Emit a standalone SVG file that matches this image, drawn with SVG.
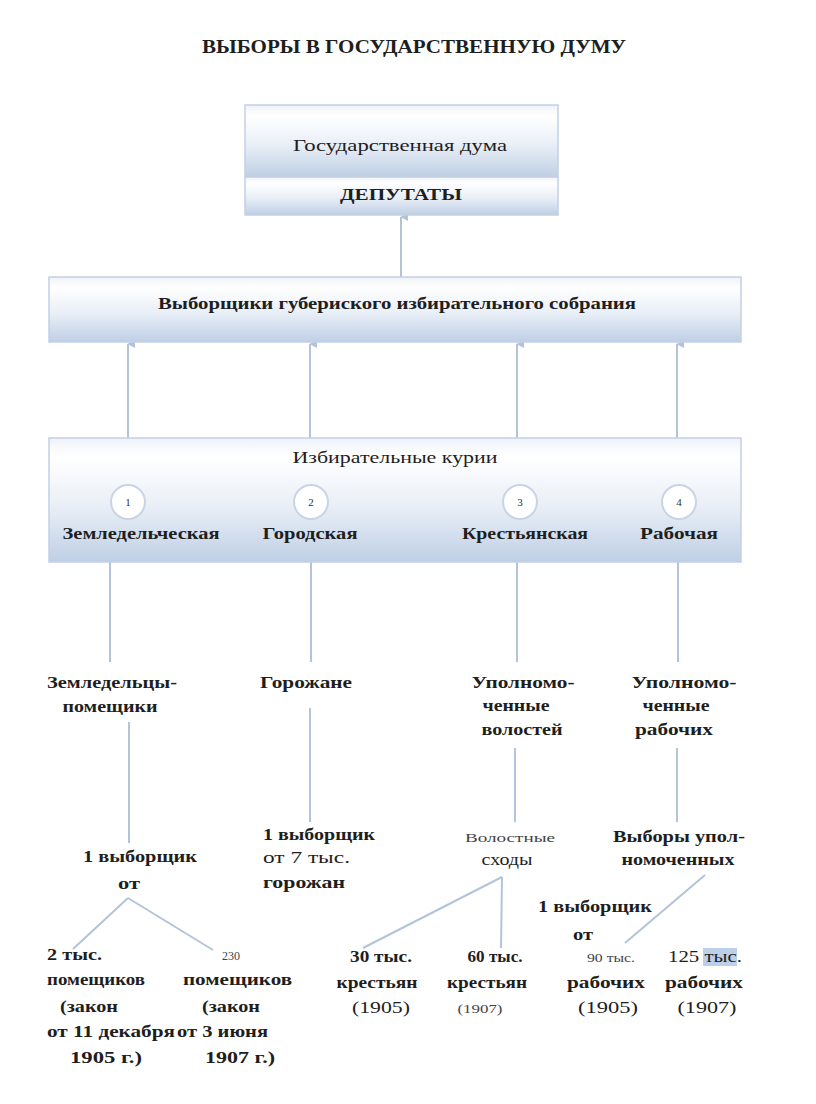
<svg xmlns="http://www.w3.org/2000/svg" width="816" height="1104" viewBox="0 0 816 1104">
<style>
text{font-family:"Liberation Serif","Times New Roman",serif;fill:#1e1e1e}
.t{font-size:17px;font-weight:bold;text-anchor:middle}
.n{font-size:17px;font-weight:normal;text-anchor:middle}
.s{font-size:17px;font-weight:bold;text-anchor:start}
.sm{font-size:12px;font-weight:normal;text-anchor:middle;fill:#444}
.box{stroke:#c3d0e2;stroke-width:1.5}
.ln{stroke:#b3c4da;stroke-width:2;fill:none}
.circ{fill:#ffffff;stroke:#c9d4e4;stroke-width:2}
.num{font-size:11px;text-anchor:middle;fill:#333}
</style>
<defs>
<linearGradient id="g" x1="0" y1="0" x2="0" y2="1">
<stop offset="0" stop-color="#eef2f8"/>
<stop offset="0.15" stop-color="#ffffff"/>
<stop offset="0.55" stop-color="#e9eff7"/>
<stop offset="1" stop-color="#bfcfe5"/>
</linearGradient>
<marker id="ar" viewBox="0 0 10 10" refX="5" refY="1" markerWidth="8" markerHeight="8" markerUnits="userSpaceOnUse" orient="auto-start-reverse">
<path d="M0,10 L5,0 L10,10 z" fill="#b3c4da"/>
</marker>
</defs>
<rect width="816" height="1104" fill="#ffffff"/>
<text x="414" y="53" font-size="19" font-weight="bold" text-anchor="middle" textLength="424" lengthAdjust="spacingAndGlyphs">ВЫБОРЫ В ГОСУДАРСТВЕННУЮ ДУМУ</text>

<g id="connectors">
<line class="ln" x1="401" y1="277" x2="401" y2="217" marker-end="url(#ar)"/>
<line class="ln" x1="128" y1="438" x2="128" y2="344" marker-end="url(#ar)"/>
<line class="ln" x1="310" y1="438" x2="310" y2="344" marker-end="url(#ar)"/>
<line class="ln" x1="517" y1="438" x2="517" y2="344" marker-end="url(#ar)"/>
<line class="ln" x1="677" y1="438" x2="677" y2="344" marker-end="url(#ar)"/>
<line class="ln" x1="110" y1="562" x2="110" y2="662"/>
<line class="ln" x1="311" y1="562" x2="311" y2="662"/>
<line class="ln" x1="517" y1="562" x2="517" y2="662"/>
<line class="ln" x1="678" y1="562" x2="678" y2="662"/>
<line class="ln" x1="129" y1="722" x2="129" y2="843"/>
<line class="ln" x1="310" y1="708" x2="310" y2="822"/>
<line class="ln" x1="515" y1="748" x2="515" y2="822"/>
<line class="ln" x1="677" y1="748" x2="677" y2="822"/>
<line class="ln" x1="128" y1="898" x2="73" y2="949"/>
<line class="ln" x1="128" y1="898" x2="213" y2="950"/>
<line class="ln" x1="502" y1="877" x2="363" y2="948"/>
<line class="ln" x1="502" y1="877" x2="501" y2="948"/>
<line class="ln" x1="705" y1="875" x2="625" y2="943"/>
</g>

<g id="duma">
<rect class="box" x="245" y="105" width="313" height="72" fill="url(#g)"/>
<rect class="box" x="245" y="177" width="313" height="38" fill="url(#g)"/>
<text class="n" x="400" y="151" textLength="214" lengthAdjust="spacingAndGlyphs">Государственная дума</text>
<text class="t" x="401" y="200" textLength="122" lengthAdjust="spacingAndGlyphs">ДЕПУТАТЫ</text>
</g>

<g id="electors">
<rect class="box" x="49" y="277" width="692" height="65" fill="url(#g)"/>
<text class="t" x="397" y="309" textLength="478" lengthAdjust="spacingAndGlyphs">Выборщики губериского избирательного собрания</text>
</g>

<g id="curiae">
<rect class="box" x="49" y="438" width="692" height="124" fill="url(#g)"/>
<text class="n" x="395" y="463" textLength="205" lengthAdjust="spacingAndGlyphs">Избирательные курии</text>
<circle class="circ" cx="128" cy="502" r="17"/>
<circle class="circ" cx="311" cy="502" r="17"/>
<circle class="circ" cx="520" cy="502" r="17"/>
<circle class="circ" cx="679" cy="502" r="17"/>
<text class="num" x="128" y="506">1</text>
<text class="num" x="311" y="506">2</text>
<text class="num" x="520" y="506">3</text>
<text class="num" x="679" y="506">4</text>
<text class="t" x="141" y="539" textLength="157" lengthAdjust="spacingAndGlyphs">Земледельческая</text>
<text class="t" x="310" y="539" textLength="95" lengthAdjust="spacingAndGlyphs">Городская</text>
<text class="t" x="525" y="539" textLength="126" lengthAdjust="spacingAndGlyphs">Крестьянская</text>
<text class="t" x="679" y="539" textLength="78" lengthAdjust="spacingAndGlyphs">Рабочая</text>
</g>

<g id="landowners">
<text class="t" x="112" y="688" textLength="130" lengthAdjust="spacingAndGlyphs">Земледельцы-</text>
<text class="t" x="110" y="712" textLength="95" lengthAdjust="spacingAndGlyphs">помещики</text>
</g>
<g id="townspeople">
<text class="t" x="306" y="688" textLength="92" lengthAdjust="spacingAndGlyphs">Горожане</text>
</g>
<g id="volost-reps">
<text class="t" x="523" y="688" textLength="103" lengthAdjust="spacingAndGlyphs">Уполномо-</text>
<text class="t" x="516" y="711" textLength="67" lengthAdjust="spacingAndGlyphs">ченные</text>
<text class="t" x="522" y="735" textLength="81" lengthAdjust="spacingAndGlyphs">волостей</text>
</g>
<g id="worker-reps">
<text class="t" x="684" y="688" textLength="105" lengthAdjust="spacingAndGlyphs">Уполномо-</text>
<text class="t" x="676" y="711" textLength="67" lengthAdjust="spacingAndGlyphs">ченные</text>
<text class="t" x="674" y="735" textLength="78" lengthAdjust="spacingAndGlyphs">рабочих</text>
</g>

<g id="land-elector">
<text class="t" x="140" y="862" textLength="114" lengthAdjust="spacingAndGlyphs">1 выборщик</text>
<text class="t" x="129" y="889" textLength="22" lengthAdjust="spacingAndGlyphs">от</text>
</g>
<g id="town-elector">
<text class="s" x="263" y="840" textLength="112" lengthAdjust="spacingAndGlyphs">1 выборщик</text>
<text class="n" x="263" y="863" text-anchor="start" style="text-anchor:start" textLength="87" lengthAdjust="spacingAndGlyphs">от 7 тыс.</text>
<text class="s" x="263" y="888" textLength="82" lengthAdjust="spacingAndGlyphs">горожан</text>
</g>
<g id="volost-assemblies">
<text class="sm" x="510" y="842" font-size="13" textLength="90" lengthAdjust="spacingAndGlyphs">Волостные</text>
<text class="n" x="507" y="865" textLength="51" lengthAdjust="spacingAndGlyphs">сходы</text>
</g>
<g id="worker-elections">
<text class="t" x="679" y="842" textLength="132" lengthAdjust="spacingAndGlyphs">Выборы упол-</text>
<text class="t" x="678" y="865" textLength="113" lengthAdjust="spacingAndGlyphs">номоченных</text>
</g>
<g id="worker-elector">
<text class="t" x="595" y="912" textLength="114" lengthAdjust="spacingAndGlyphs">1 выборщик</text>
<text class="t" x="583" y="940" textLength="20" lengthAdjust="spacingAndGlyphs">от</text>
</g>

<g id="land-1905">
<text class="s" x="47" y="960" textLength="55" lengthAdjust="spacingAndGlyphs">2 тыс.</text>
<text class="s" x="47" y="985" textLength="98" lengthAdjust="spacingAndGlyphs">помещиков</text>
<text class="s" x="60" y="1012" textLength="58" lengthAdjust="spacingAndGlyphs">(закон</text>
<text class="s" x="47" y="1037" textLength="128" lengthAdjust="spacingAndGlyphs">от 11 декабря</text>
<text class="s" x="70" y="1063" textLength="72" lengthAdjust="spacingAndGlyphs">1905 г.)</text>
</g>
<g id="land-1907">
<text class="sm" x="231" y="960">230</text>
<text class="s" x="183" y="985" textLength="109" lengthAdjust="spacingAndGlyphs">помещиков</text>
<text class="s" x="202" y="1012" textLength="58" lengthAdjust="spacingAndGlyphs">(закон</text>
<text class="s" x="177" y="1037" textLength="91" lengthAdjust="spacingAndGlyphs">от 3 июня</text>
<text class="s" x="205" y="1063" textLength="70" lengthAdjust="spacingAndGlyphs">1907 г.)</text>
</g>
<g id="peasants-1905">
<text class="t" x="381" y="962" textLength="62" lengthAdjust="spacingAndGlyphs">30 тыс.</text>
<text class="t" x="377" y="988" textLength="81" lengthAdjust="spacingAndGlyphs">крестьян</text>
<text class="n" x="381" y="1013" textLength="58" lengthAdjust="spacingAndGlyphs">(1905)</text>
</g>
<g id="peasants-1907">
<text class="t" x="495" y="962" textLength="55" lengthAdjust="spacingAndGlyphs">60 тыс.</text>
<text class="t" x="487" y="988" textLength="80" lengthAdjust="spacingAndGlyphs">крестьян</text>
<text class="sm" x="480" y="1013" textLength="45" lengthAdjust="spacingAndGlyphs">(1907)</text>
</g>
<g id="workers-1905">
<text class="sm" x="611" y="962" font-size="13" textLength="48" lengthAdjust="spacingAndGlyphs">90 тыс.</text>
<text class="t" x="606" y="988" textLength="78" lengthAdjust="spacingAndGlyphs">рабочих</text>
<text class="n" x="608" y="1013" textLength="60" lengthAdjust="spacingAndGlyphs">(1905)</text>
</g>
<g id="workers-1907">
<rect x="703" y="948" width="34" height="18" fill="#bcd0ea"/>
<text class="n" x="705" y="962" textLength="74" lengthAdjust="spacingAndGlyphs">125 тыс.</text>
<text class="t" x="704" y="988" textLength="78" lengthAdjust="spacingAndGlyphs">рабочих</text>
<text class="n" x="707" y="1013" textLength="59" lengthAdjust="spacingAndGlyphs">(1907)</text>
</g>
</svg>
